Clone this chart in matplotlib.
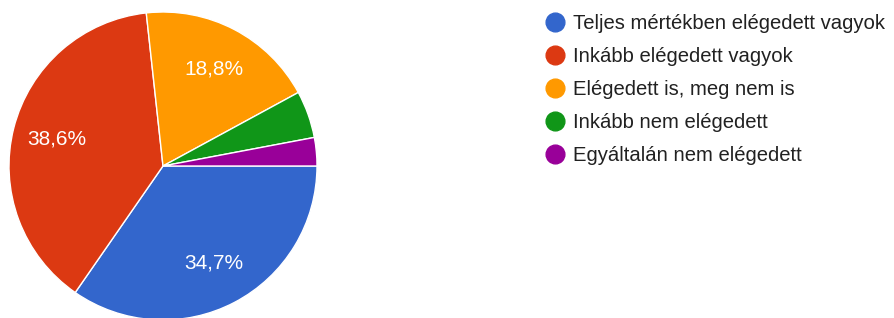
import matplotlib.pyplot as plt
from matplotlib.lines import Line2D

# survey answers (n = 101)
labels = ['Teljes mértékben elégedett vagyok', 'Inkább elégedett vagyok',
          'Elégedett is, meg nem is', 'Inkább nem elégedett',
          'Egyáltalán nem elégedett']
counts = [35, 39, 19, 5, 3]
colors = ['#3366CC', '#DC3912', '#FF9900', '#109618', '#990099']

plt.rcParams['font.family'] = ['Liberation Sans', 'DejaVu Sans']

W, H = 895, 318
fig = plt.figure(figsize=(W / 100, H / 100), dpi=100)

# pie: centre (163, 166) px, radius ~154 px
cx, cy, r = 163, 166, 154
ax = fig.add_axes([(cx - r) / W, (H - cy - r) / H, 2 * r / W, 2 * r / H])


def pct_label(p):
    if p < 6:
        return ''
    return f'{p:.1f}%'.replace('.', ',')


wedges, texts, autotexts = ax.pie(
    counts, colors=colors, startangle=0, counterclock=False,
    autopct=pct_label, pctdistance=0.71,
    wedgeprops=dict(edgecolor='white', linewidth=1.0),
    textprops=dict(color='white', fontsize=15))
ax.set_aspect('equal')
ax.set_xlim(-1, 1)
ax.set_ylim(-1, 1)

handles = [Line2D([], [], marker='o', linestyle='', markersize=13.5,
                  markerfacecolor=c, markeredgecolor=c) for c in colors]
fig.legend(handles, labels, loc='upper left',
           bbox_to_anchor=(537 / W, 1 - 6 / H), frameon=False,
           fontsize=14.6, labelspacing=0.69, handlelength=1.0,
           handletextpad=0.4, labelcolor='#212121', borderaxespad=0)

fig.savefig('out.png', dpi=100)
